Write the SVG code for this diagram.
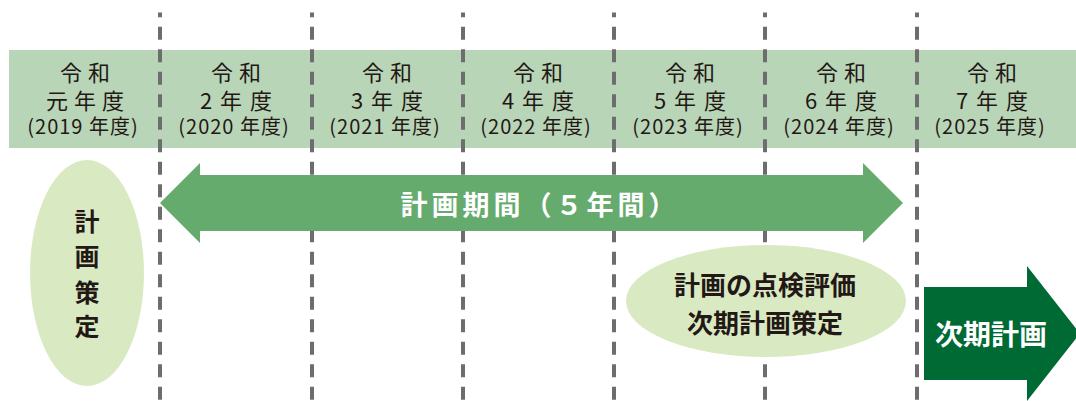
<svg xmlns="http://www.w3.org/2000/svg" width="1076" height="401" viewBox="0 0 1076 401">
<style>
.hd{font-family:"Noto Sans CJK JP","Noto Sans",sans-serif;fill:#231815;text-anchor:middle;font-weight:400}
.l1{font-size:22px;letter-spacing:6px}
.l2{font-size:22px;letter-spacing:8px}
.l3{font-size:20px;letter-spacing:1px}
.dash{stroke:#6d6d6f;stroke-width:4;stroke-dasharray:13 9.5;stroke-dashoffset:8.3;fill:none}
.bold{font-family:"Noto Sans CJK JP","Noto Sans",sans-serif;font-weight:700;text-anchor:middle}
</style>
<rect x="9" y="50" width="1067" height="98" fill="#b9d5b8"/>
<g id="years">
<g id="y2019"><text class="hd l1" x="88" y="81">令和</text><text class="hd l1" x="88" y="109">元年度</text><text class="hd l3" x="83" y="134">(2019 年度)</text></g>
<g id="y2020"><text class="hd l1" x="239" y="81">令和</text><text class="hd l2" x="240" y="109">2年度</text><text class="hd l3" x="234" y="134">(2020 年度)</text></g>
<g id="y2021"><text class="hd l1" x="390" y="81">令和</text><text class="hd l2" x="391" y="109">3年度</text><text class="hd l3" x="385" y="134">(2021 年度)</text></g>
<g id="y2022"><text class="hd l1" x="541" y="81">令和</text><text class="hd l2" x="542" y="109">4年度</text><text class="hd l3" x="536" y="134">(2022 年度)</text></g>
<g id="y2023"><text class="hd l1" x="693" y="81">令和</text><text class="hd l2" x="694" y="109">5年度</text><text class="hd l3" x="688" y="134">(2023 年度)</text></g>
<g id="y2024"><text class="hd l1" x="844" y="81">令和</text><text class="hd l2" x="845" y="109">6年度</text><text class="hd l3" x="839" y="134">(2024 年度)</text></g>
<g id="y2025"><text class="hd l1" x="995" y="81">令和</text><text class="hd l2" x="996" y="109">7年度</text><text class="hd l3" x="990" y="134">(2025 年度)</text></g>
</g>
<g id="gridlines">
<line class="dash" x1="160" y1="12.5" x2="160" y2="401"/>
<line class="dash" x1="312" y1="12.5" x2="312" y2="401"/>
<line class="dash" x1="463" y1="12.5" x2="463" y2="401"/>
<line class="dash" x1="614" y1="12.5" x2="614" y2="401"/>
<line class="dash" x1="765" y1="12.5" x2="765" y2="401"/>
<line class="dash" x1="917" y1="12.5" x2="917" y2="401"/>
</g>
<g id="period">
<polygon points="160,203 200,163 200,175 863,175 863,163 903,203 863,243 863,231 200,231 200,243" fill="#66ab6e"/>
<text class="bold" x="540" y="215" font-size="27" fill="#ffffff" letter-spacing="4">計画期間（５年間）</text>
</g>
<g id="plan">
<ellipse cx="87" cy="273" rx="57" ry="113" fill="#d9eac3"/>
<text class="bold" font-size="25" fill="#231815"><tspan x="87" y="231">計</tspan><tspan x="87" y="266">画</tspan><tspan x="87" y="302">策</tspan><tspan x="87" y="336">定</tspan></text>
</g>
<g id="review">
<ellipse cx="766" cy="301" rx="140" ry="56" fill="#d9eac3"/>
<text class="bold" font-size="26" fill="#231815"><tspan x="765" y="295">計画の点検評価</tspan><tspan x="765" y="333">次期計画策定</tspan></text>
</g>
<g id="next">
<polygon points="924,287 1027,287 1027,266 1080,333.5 1027,401 1027,380 924,380" fill="#006a35"/>
<text class="bold" x="991" y="345" font-size="28" fill="#ffffff">次期計画</text>
</g>
</svg>
